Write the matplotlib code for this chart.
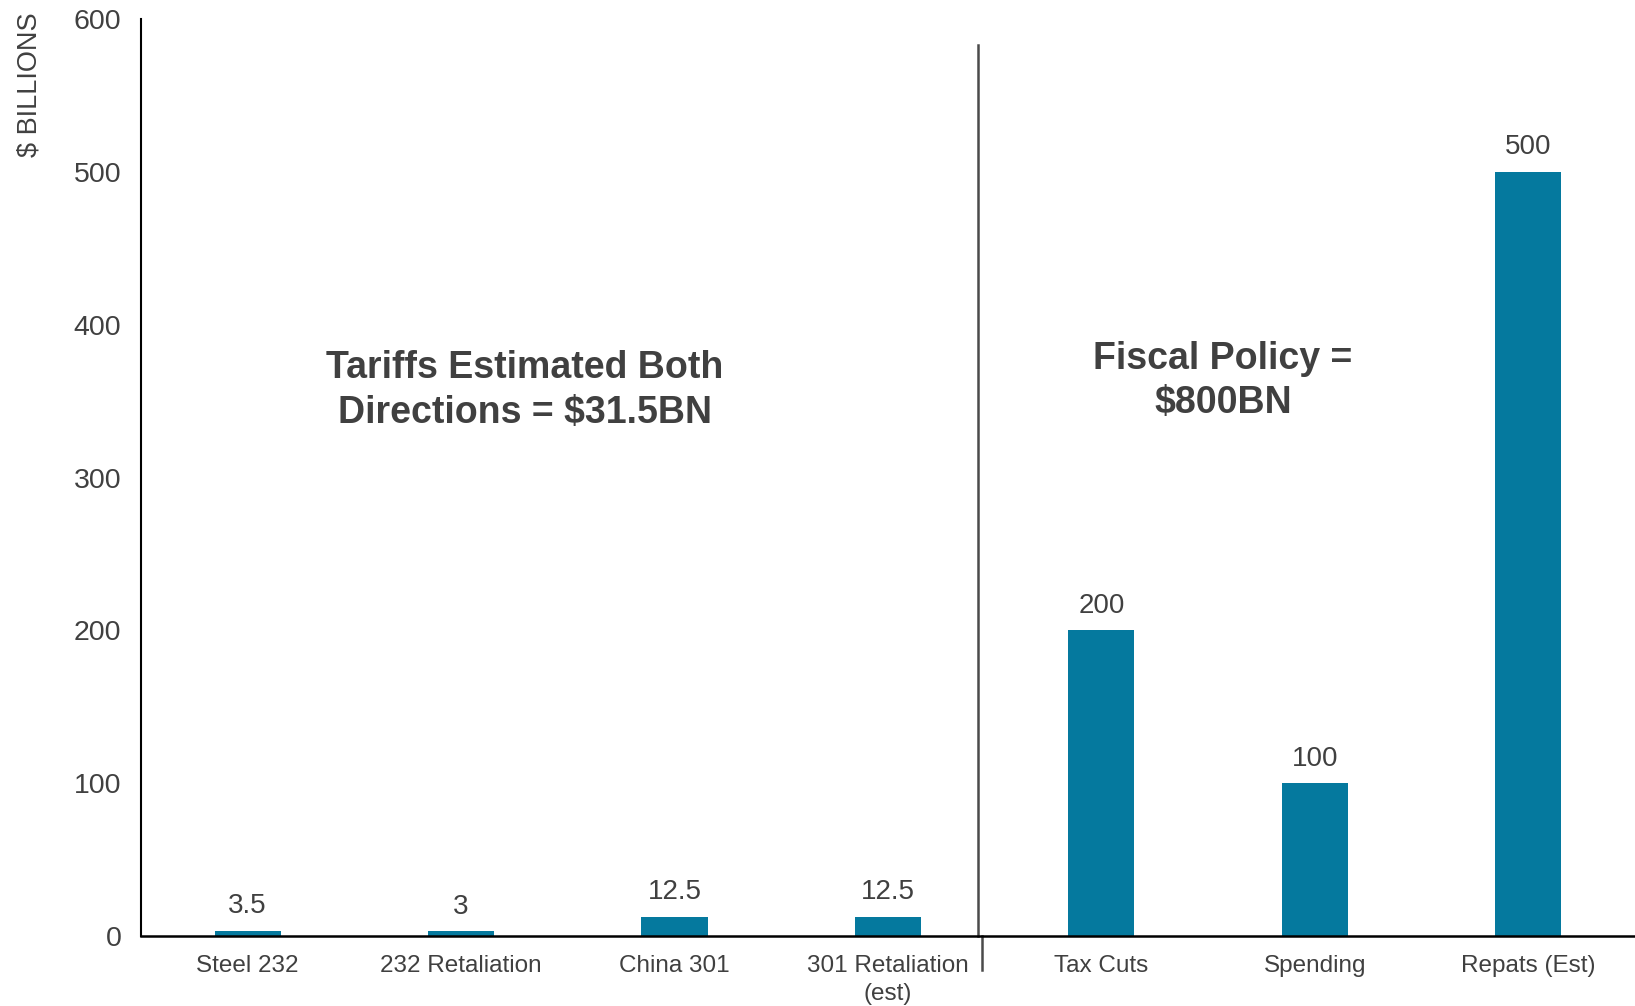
import matplotlib.pyplot as plt

categories = ["Steel 232", "232 Retaliation", "China 301", "301 Retaliation\n(est)",
              "Tax Cuts", "Spending", "Repats (Est)"]
values = [3.5, 3, 12.5, 12.5, 200, 100, 500]
value_labels = ["3.5", "3", "12.5", "12.5", "200", "100", "500"]
yticks = [0, 100, 200, 300, 400, 500, 600]

plt.rcParams['font.family'] = ['Liberation Sans', 'DejaVu Sans']
grey = "#404040"

fig = plt.figure(figsize=(16.35, 10.06), dpi=100)
ax = fig.add_axes([0.0862, 0.0696, 0.9138, 0.9114])

x = list(range(len(categories)))
ax.bar(x, values, width=0.31, color="#05799E")
for xi, v, lab in zip(x, values, value_labels):
    ax.text(xi, v + 7.5, lab, ha="center", va="bottom", fontsize=20, color=grey)

ax.set_xlim(-0.5, 6.5)
ax.set_ylim(0, 600)
ax.set_yticks(yticks)
ax.set_xticks(x)
ax.set_xticklabels(categories, fontsize=17.5, linespacing=1.3)
ax.tick_params(axis="both", length=0, colors=grey)
ax.tick_params(axis="y", labelsize=20.5, pad=14)
ax.tick_params(axis="x", pad=14)
for s in ["top", "right"]:
    ax.spines[s].set_visible(False)
ax.spines["left"].set_linewidth(1.5)
ax.spines["bottom"].set_linewidth(1.8)

# divider between tariff and fiscal sections
ax.plot([3.42, 3.42], [583, 0], color="#4a4a4a", lw=1.8, clip_on=False)
ax.plot([3.44, 3.44], [0, -22], color="#4a4a4a", lw=1.8, clip_on=False)

ax.text(1.3, 357, "Tariffs Estimated Both\nDirections = $31.5BN", ha="center", va="center",
        fontsize=27, fontweight="bold", color=grey, linespacing=1.3)
ax.text(4.57, 363, "Fiscal Policy =\n$800BN", ha="center", va="center",
        fontsize=27, fontweight="bold", color=grey, linespacing=1.3)

fig.text(0.018, 0.988, "$ BILLIONS", rotation=90, ha="center", va="top",
         fontsize=19.5, color=grey)

fig.savefig("out.png", dpi=100)
